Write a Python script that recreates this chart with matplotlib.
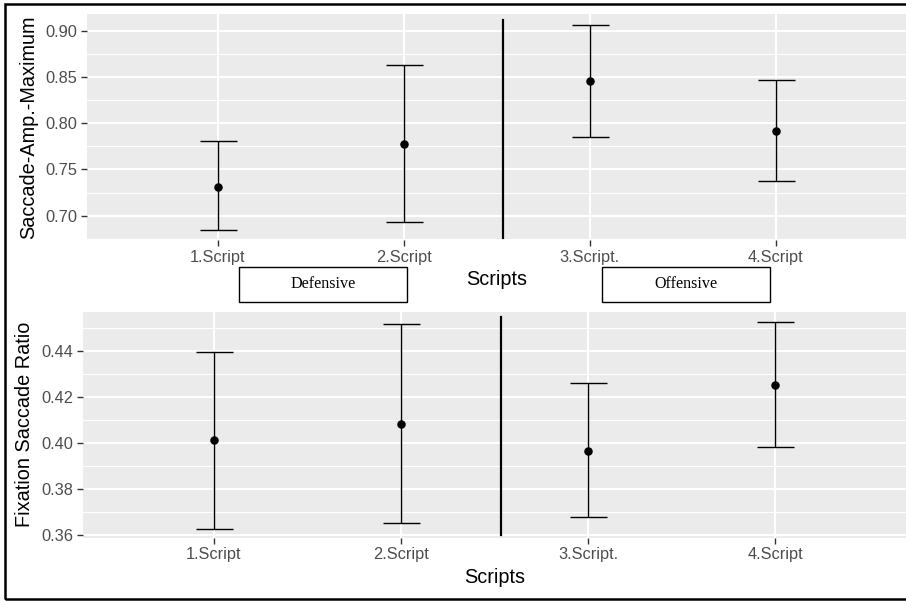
import matplotlib
matplotlib.use("Agg")
import matplotlib.pyplot as plt
from matplotlib.patches import Rectangle
import numpy as np

categories = ["1.Script", "2.Script", "3.Script.", "4.Script"]

amp_mean = [0.7314, 0.7772, 0.8453, 0.7919]
amp_low = [0.6846, 0.6929, 0.7854, 0.7375]
amp_high = [0.7808, 0.8629, 0.9062, 0.8470]

fsr_mean = [0.4015, 0.4083, 0.3968, 0.4252]
fsr_low = [0.3628, 0.3653, 0.3682, 0.3983]
fsr_high = [0.4396, 0.4518, 0.4260, 0.4527]

amp_ticks = [0.70, 0.75, 0.80, 0.85, 0.90]
fsr_ticks = [0.36, 0.38, 0.40, 0.42, 0.44]
group_labels = ["Defensive", "Offensive"]

plt.rcParams['font.family'] = ['Liberation Sans', 'DejaVu Sans']

W, H = 906, 601
fig = plt.figure(figsize=(W / 100, H / 100), dpi=100)
PT = 72 / 100  # points per pixel


def px_axes(left, top, right, bottom):
    return fig.add_axes([left / W, 1 - bottom / H, (right - left) / W, (bottom - top) / H])


def style_panel(ax, ylim, yticks, ylabel):
    x = np.arange(1, len(categories) + 1)
    ax.set_facecolor("#EBEBEB")
    ax.set_xticks(x)
    ax.set_xticklabels(categories)
    ax.set_yticks(yticks)
    ax.set_yticklabels([f"{t:.2f}" for t in yticks])
    step = yticks[1] - yticks[0]
    minors = [t - step / 2 for t in yticks] + [yticks[-1] + step / 2]
    ax.set_yticks(minors, minor=True)
    ax.set_xlim(0.30, 4.70)
    ax.set_ylim(*ylim)
    ax.grid(which="major", color="white", linewidth=2.0 * PT)
    ax.grid(which="minor", axis="y", color="white", linewidth=1.0 * PT)
    ax.set_axisbelow(True)
    for s in ax.spines.values():
        s.set_visible(False)
    ax.tick_params(which="major", length=4, width=1.0, color="#333333",
                   labelcolor="#4D4D4D", labelsize=11.8, pad=3)
    ax.tick_params(which="minor", length=0)
    ax.set_ylabel(ylabel, fontsize=14.3, color="black", labelpad=5)
    ax.set_xlabel("Scripts", fontsize=14.3, color="black", labelpad=4)
    return x


def draw_errors(ax, x, mean, low, high):
    mean = np.array(mean)
    ax.errorbar(x, mean, yerr=[mean - np.array(low), np.array(high) - mean],
                fmt="none", ecolor="black", elinewidth=1.4 * PT,
                capsize=18.5 * PT, capthick=1.4 * PT, zorder=3)
    ax.scatter(x, mean, s=(8.5 * PT) ** 2, color="black", zorder=4, linewidths=0)


# upper panel
ax1 = px_axes(87.3, 14, 906, 240)
x = style_panel(ax1, (0.6737, 0.918), amp_ticks, "Saccade-Amp.-Maximum")
draw_errors(ax1, x, amp_mean, amp_low, amp_high)
ax1.plot([2.535, 2.535], [0.6755, 0.911], color="black", linewidth=2.2 * PT, zorder=3)

# lower panel
ax2 = px_axes(82.7, 311.7, 906, 537.7)
x = style_panel(ax2, (0.3590, 0.4571), fsr_ticks, "Fixation Saccade Ratio")
draw_errors(ax2, x, fsr_mean, fsr_low, fsr_high)
ax2.plot([2.535, 2.535], [0.3600, 0.4550], color="black", linewidth=2.2 * PT, zorder=3)

# group boxes between panels
boxes = [(239, 407), (602, 769.5)]
for (l, r), lab in zip(boxes, group_labels):
    top, bot = 266.7, 302
    fig.patches.append(Rectangle((l / W, 1 - bot / H), (r - l) / W, (bot - top) / H,
                                 transform=fig.transFigure, fill=False,
                                 edgecolor="black", linewidth=1.0))
    fig.text((l + r) / 2 / W, 1 - (top + bot) / 2 / H, lab,
             ha="center", va="center", fontsize=11.6,
             family=["Liberation Serif", "DejaVu Serif"])

# outer border (right side cropped)
fig.patches.append(Rectangle((5 / W, 1 - 598.5 / H), 1.2, (598.5 - 3.5) / H,
                             transform=fig.transFigure, fill=False,
                             edgecolor="black", linewidth=1.8, clip_on=False))

fig.savefig("out.png", dpi=100)
